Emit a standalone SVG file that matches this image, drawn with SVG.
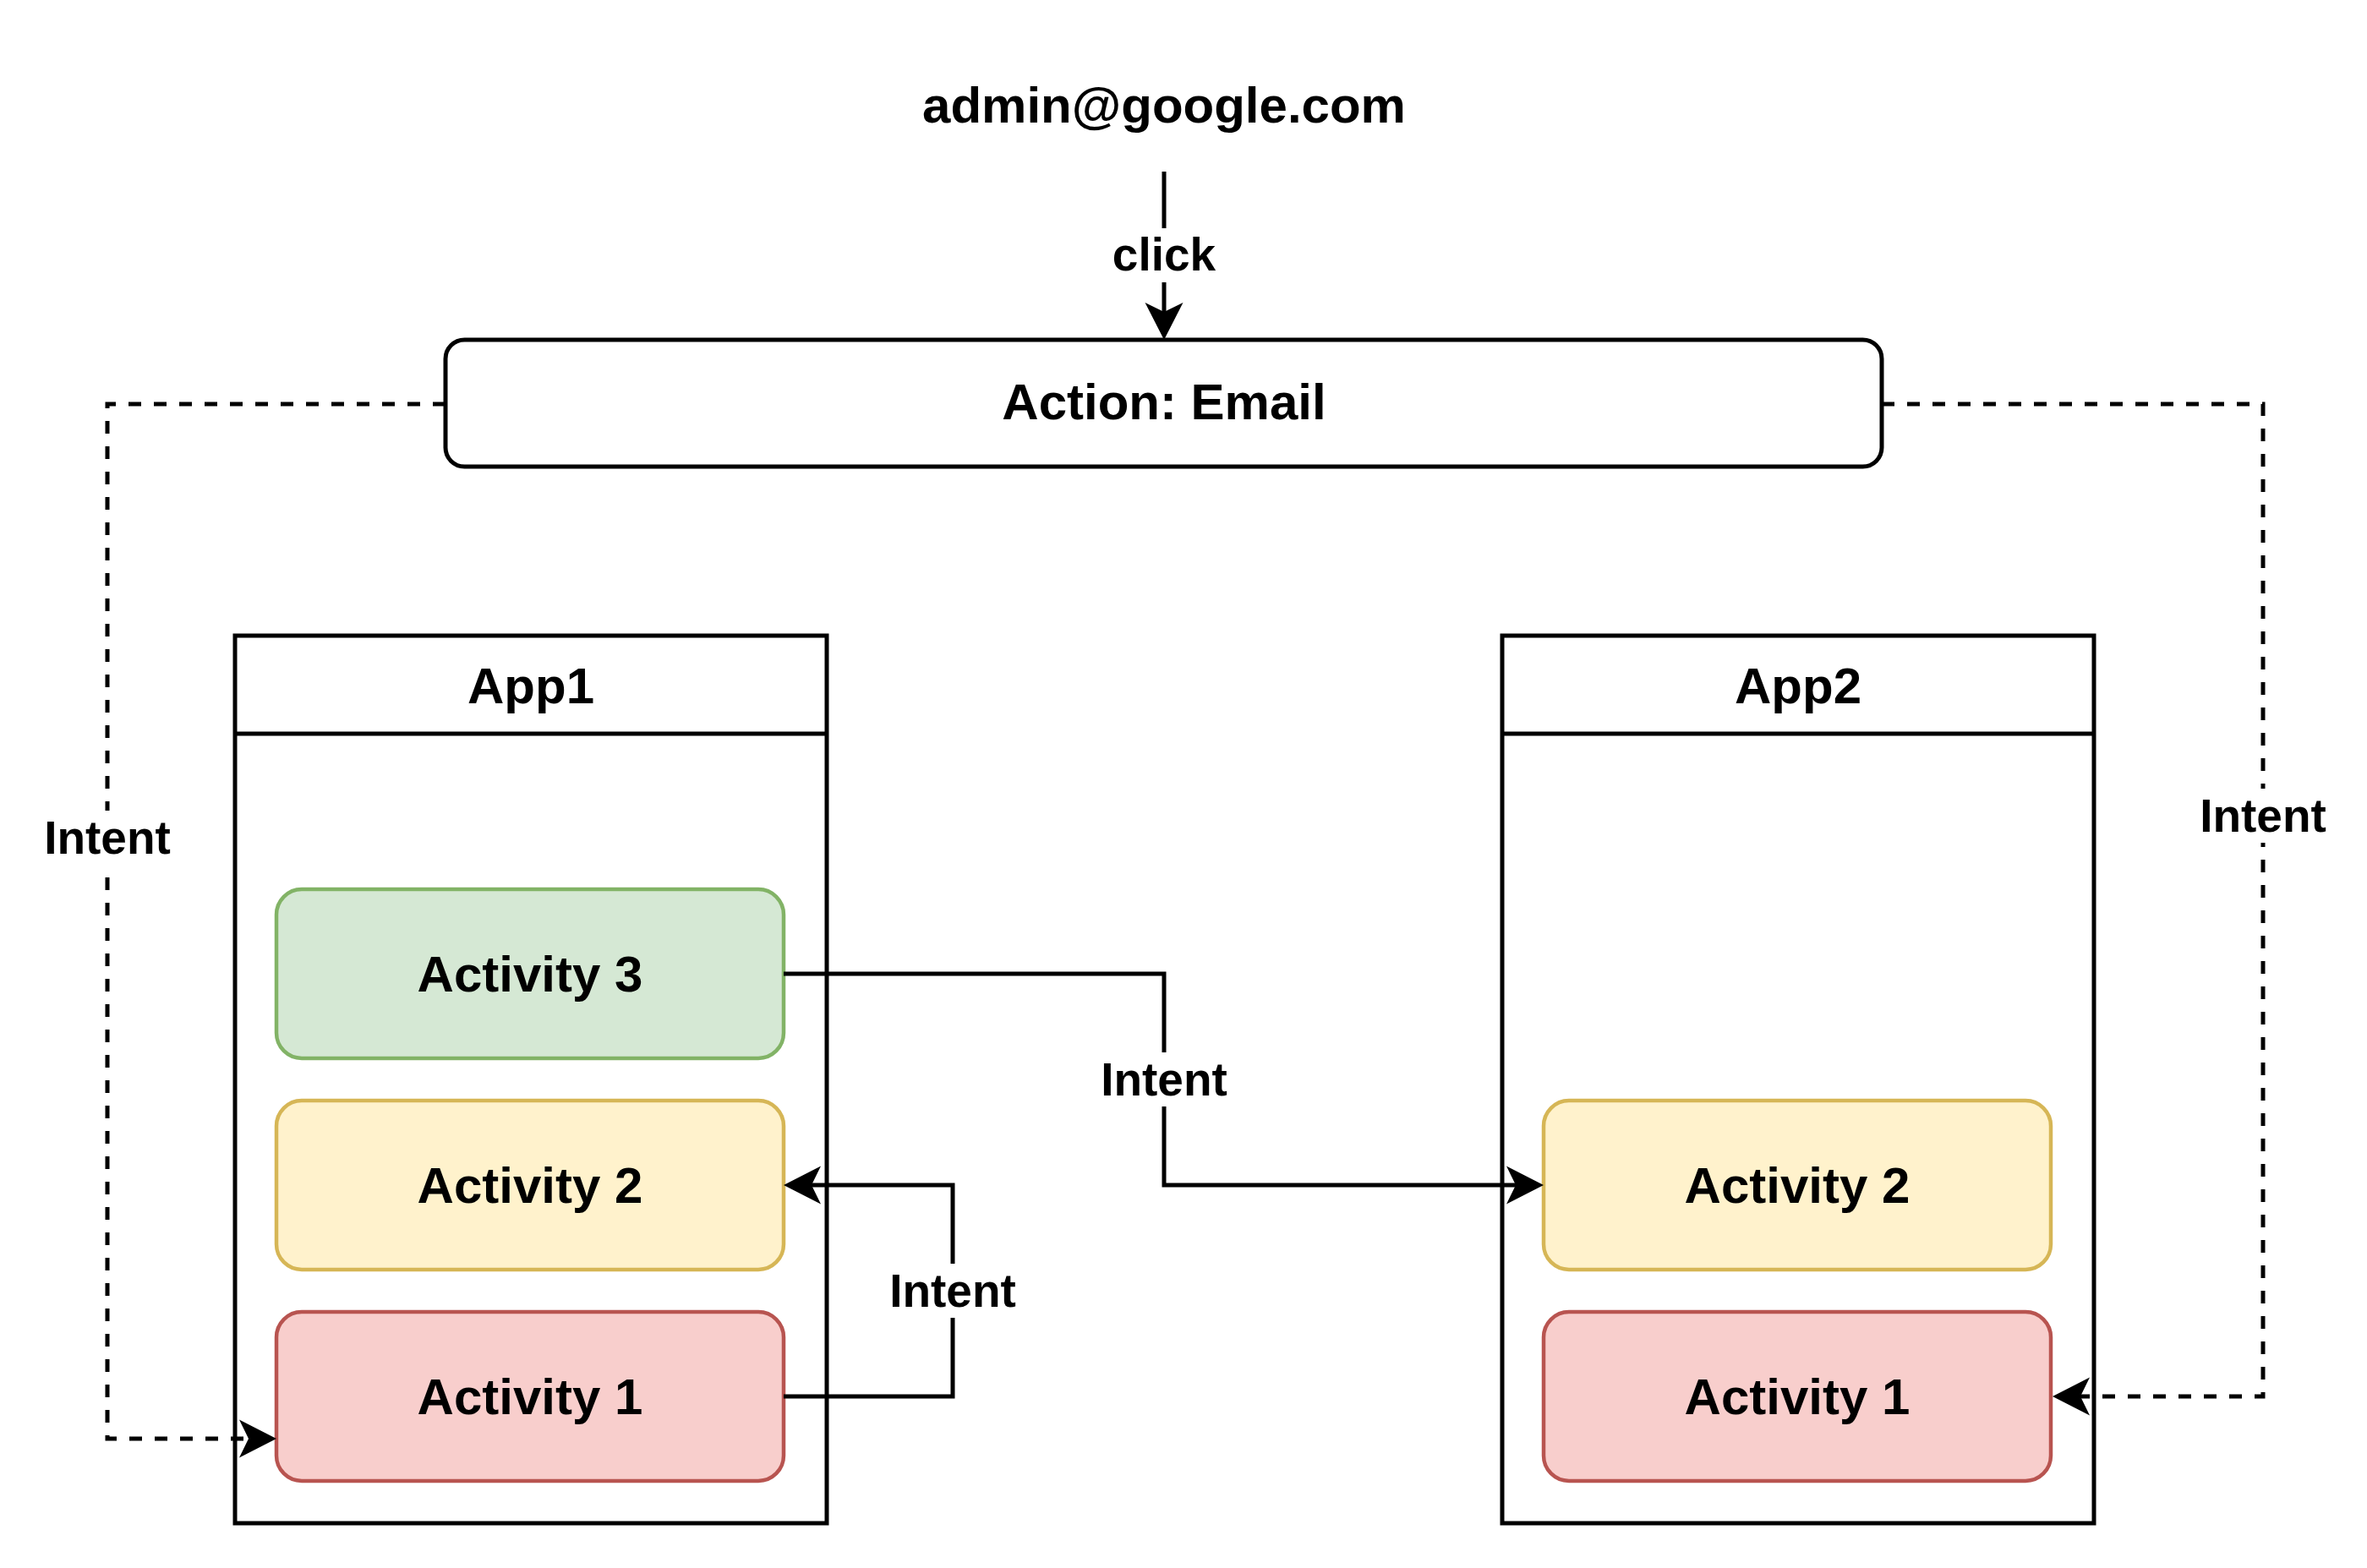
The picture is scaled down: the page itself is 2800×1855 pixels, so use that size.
<svg xmlns="http://www.w3.org/2000/svg" width="2800" height="1855" viewBox="0 0 2800 1855">
<style>
text{font-family:"Liberation Sans",Arial,Helvetica,sans-serif;font-weight:bold;fill:#000;text-anchor:middle}
.n{font-size:60px}
.e{font-size:55px}
.box{fill:#fff;stroke:#000;stroke-width:5}
.green{fill:#d5e8d4;stroke:#82b366;stroke-width:4.5}
.yellow{fill:#fff2cc;stroke:#d6b656;stroke-width:4.5}
.red{fill:#f8cecc;stroke:#b85450;stroke-width:4.5}
.edge{fill:none;stroke:#000;stroke-width:5;marker-end:url(#arrow)}
.dash{stroke-dasharray:15 15}
.lbg{fill:#fff;stroke:none}
</style>
<defs>
<marker id="arrow" markerUnits="userSpaceOnUse" viewBox="-12 -24 46 48" refX="0" refY="0" markerWidth="46" markerHeight="48" orient="auto" overflow="visible">
<path d="M33,0 L-11,-22.5 L0,0 L-11,22.5 Z" fill="#000"/>
</marker>
</defs>
<rect width="2800" height="1855" fill="#fff"/>

<g id="app1">
<rect class="box" x="278" y="752" width="700" height="1050"/>
<line x1="278" y1="868" x2="978" y2="868" stroke="#000" stroke-width="5"/>
<text class="n" x="628" y="832">App1</text>
</g>
<g id="app2">
<rect class="box" x="1777" y="752" width="700" height="1050"/>
<line x1="1777" y1="868" x2="2477" y2="868" stroke="#000" stroke-width="5"/>
<text class="n" x="2127" y="832">App2</text>
</g>

<g id="email">
<text class="n" x="1377" y="145">admin@google.com</text>
</g>
<g id="action">
<rect class="box" x="527" y="402" width="1699" height="150" rx="22.5" ry="22.5"/>
<text class="n" x="1377" y="496">Action: Email</text>
</g>

<g id="app1-activity3">
<rect class="green" x="327" y="1052" width="600" height="200" rx="30" ry="30"/>
<text class="n" x="627" y="1173">Activity 3</text>
</g>
<g id="app1-activity2">
<rect class="yellow" x="327" y="1302" width="600" height="200" rx="30" ry="30"/>
<text class="n" x="627" y="1423">Activity 2</text>
</g>
<g id="app1-activity1">
<rect class="red" x="327" y="1552" width="600" height="200" rx="30" ry="30"/>
<text class="n" x="627" y="1673">Activity 1</text>
</g>
<g id="app2-activity2">
<rect class="yellow" x="1826" y="1302" width="600" height="200" rx="30" ry="30"/>
<text class="n" x="2126" y="1423">Activity 2</text>
</g>
<g id="app2-activity1">
<rect class="red" x="1826" y="1552" width="600" height="200" rx="30" ry="30"/>
<text class="n" x="2126" y="1673">Activity 1</text>
</g>

<g id="connectors">
<path class="edge" d="M1377,203 V369"/>
<rect class="lbg" x="1315" y="270" width="124" height="64"/>
<text class="e" x="1377" y="320">click</text>

<path class="edge dash" d="M527,478 H127 V1702 H294"/>
<rect class="lbg" x="50" y="959" width="154" height="64"/>
<text class="e" x="127" y="1010">Intent</text>

<path class="edge dash" d="M2226,478 H2677 V1652 H2461"/>
<rect class="lbg" x="2600" y="933" width="154" height="64"/>
<text class="e" x="2677" y="984">Intent</text>

<path class="edge" d="M927,1152 H1377 V1402 H1793"/>
<rect class="lbg" x="1300" y="1245" width="154" height="64"/>
<text class="e" x="1377" y="1296">Intent</text>

<path class="edge" d="M927,1652 H1127 V1402 H960"/>
<rect class="lbg" x="1050" y="1495" width="154" height="64"/>
<text class="e" x="1127" y="1546">Intent</text>
</g>
</svg>
